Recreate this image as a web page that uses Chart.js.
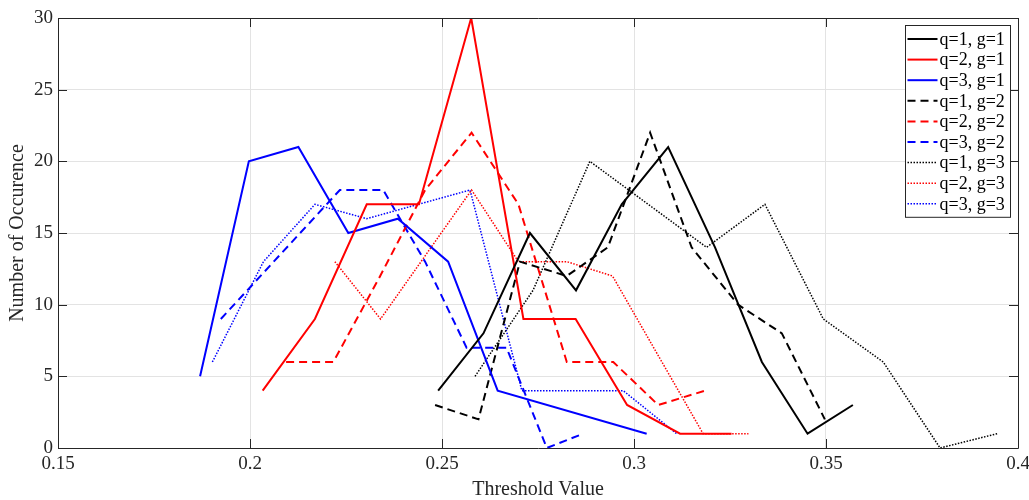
<!DOCTYPE html>
<html>
<head>
<meta charset="utf-8">
<script src="https://cdn.jsdelivr.net/npm/chart.js@4.4.0/dist/chart.umd.min.js"></script>
<style>
    html, body { margin: 0; padding: 0; background: #fff; }
</style>
</head>
<body>
<canvas id="thresholdChart" width="1029" height="500"></canvas>
<script>
// threshold value (x) and number of occurence (y) per curve
const thrQ1G1 = [0.2490, 0.2608, 0.2729, 0.2849, 0.2968, 0.3089, 0.3211, 0.3333, 0.3452, 0.3570];
const cntQ1G1 = [4, 8, 15, 11, 17, 21, 14, 6, 1, 3];
const thrQ2G1 = [0.2033, 0.2169, 0.2304, 0.2440, 0.2576, 0.2712, 0.2848, 0.2982, 0.3120, 0.3254];
const cntQ2G1 = [4, 9, 17, 17, 30, 9, 9, 3, 1, 1];
const thrQ3G1 = [0.1870, 0.1997, 0.2126, 0.2256, 0.2385, 0.2516, 0.2645, 0.3033];
const cntQ3G1 = [5, 20, 21, 15, 16, 13, 4, 1];

const thrQ1G2 = [0.2482, 0.2595, 0.2703, 0.2825, 0.2932, 0.3042, 0.3150, 0.3271, 0.3385, 0.3497];
const cntQ1G2 = [3, 2, 13, 12, 14, 22, 14, 10, 8, 2];
const thrQ2G2 = [0.2094, 0.2217, 0.2339, 0.2456, 0.2577, 0.2699, 0.2825, 0.2946, 0.3063, 0.3185];
const cntQ2G2 = [6, 6, 12, 18, 22, 17, 6, 6, 3, 4];
const thrQ3G2 = [0.1924, 0.2234, 0.2347, 0.2456, 0.2564, 0.2668, 0.2773, 0.2868];
const cntQ3G2 = [9, 18, 18, 13, 7, 7, 0, 1];

const thrQ1G3 = [0.2586, 0.2737, 0.2885, 0.3189, 0.3341, 0.3493, 0.3649, 0.3797, 0.3946];
const cntQ1G3 = [5, 11, 20, 14, 17, 9, 6, 0, 1];
const thrQ2G3 = [0.2221, 0.2340, 0.2577, 0.2699, 0.2825, 0.2944, 0.3180, 0.3298];
const cntQ2G3 = [13, 9, 18, 13, 13, 12, 1, 1];
const thrQ3G3 = [0.1902, 0.2035, 0.2169, 0.2304, 0.2573, 0.2708, 0.2972, 0.3111];
const cntQ3G3 = [6, 13, 17, 16, 18, 4, 4, 1];

const seriesLabels = ['q=1, g=1', 'q=2, g=1', 'q=3, g=1', 'q=1, g=2', 'q=2, g=2', 'q=3, g=2', 'q=1, g=3', 'q=2, g=3', 'q=3, g=3'];
const xTicks = [0.15, 0.2, 0.25, 0.3, 0.35, 0.4];
const yTicks = [0, 5, 10, 15, 20, 25, 30];

const AXIS = '#262626';
const SERIF = '"Liberation Serif", "Times New Roman", serif';

const colors = ['#000000', '#ff0000', '#0000ff'];
const styles = {
    solid: { dash: [], width: 2 },
    dashed: { dash: [8, 5], width: 2 },
    dotted: { dash: [1.5, 1.5], width: 1.5 }
};

function makeSet(i, xs, ys, style) {
    const st = styles[style];
    return {
        label: seriesLabels[i],
        data: xs.map((x, k) => ({ x: x, y: ys[k] })),
        borderColor: colors[i % 3],
        backgroundColor: colors[i % 3],
        borderWidth: st.width,
        borderDash: st.dash,
        pointRadius: 0,
        tension: 0,
        fill: false
    };
}

const datasets = [
    makeSet(0, thrQ1G1, cntQ1G1, 'solid'),
    makeSet(1, thrQ2G1, cntQ2G1, 'solid'),
    makeSet(2, thrQ3G1, cntQ3G1, 'solid'),
    makeSet(3, thrQ1G2, cntQ1G2, 'dashed'),
    makeSet(4, thrQ2G2, cntQ2G2, 'dashed'),
    makeSet(5, thrQ3G2, cntQ3G2, 'dashed'),
    makeSet(6, thrQ1G3, cntQ1G3, 'dotted'),
    makeSet(7, thrQ2G3, cntQ2G3, 'dotted'),
    makeSet(8, thrQ3G3, cntQ3G3, 'dotted')
];

// box round the plot with inward ticks, matlab style
const axesBox = {
    id: 'axesBox',
    afterDatasetsDraw(chart) {
        const { ctx, chartArea: a, scales } = chart;
        const len = 9;
        ctx.save();
        ctx.strokeStyle = AXIS;
        ctx.lineWidth = 1;
        ctx.setLineDash([]);
        ctx.beginPath();
        ctx.rect(Math.round(a.left) + 0.5, Math.round(a.top) + 0.5,
                 Math.round(a.right - a.left), Math.round(a.bottom - a.top));
        xTicks.forEach(v => {
            const px = Math.round(scales.x.getPixelForValue(v)) + 0.5;
            ctx.moveTo(px, a.bottom); ctx.lineTo(px, a.bottom - len);
            ctx.moveTo(px, a.top); ctx.lineTo(px, a.top + len);
        });
        yTicks.forEach(v => {
            const py = Math.round(scales.y.getPixelForValue(v)) + 0.5;
            ctx.moveTo(a.left, py); ctx.lineTo(a.left + len, py);
            ctx.moveTo(a.right, py); ctx.lineTo(a.right - len, py);
        });
        ctx.stroke();
        ctx.restore();
    }
};

// legend drawn inside the axes, top right
const boxLegend = {
    id: 'boxLegend',
    afterDraw(chart) {
        const { ctx, chartArea: a } = chart;
        const rowH = 20.6;
        const w = 105;
        const h = rowH * 8 + 27;
        const left = Math.round(a.right - 8 - w) + 0.5;
        const top = Math.round(a.top + 7) + 0.5;
        ctx.save();
        ctx.fillStyle = '#fff';
        ctx.fillRect(left, top, w, h);
        ctx.strokeStyle = AXIS;
        ctx.lineWidth = 1;
        ctx.strokeRect(left, top, w, h);
        ctx.font = '18px ' + SERIF;
        ctx.textBaseline = 'middle';
        chart.data.datasets.forEach((ds, i) => {
            const cy = top + 13.5 + i * rowH;
            ctx.strokeStyle = ds.borderColor;
            ctx.lineWidth = ds.borderWidth;
            ctx.setLineDash(ds.borderDash);
            ctx.beginPath();
            ctx.moveTo(left + 2, cy);
            ctx.lineTo(left + 32, cy);
            ctx.stroke();
            ctx.setLineDash([]);
            ctx.fillStyle = '#000';
            ctx.fillText(ds.label, left + 34, cy + 1);
        });
        ctx.restore();
    }
};

new Chart(document.getElementById('thresholdChart'), {
    type: 'line',
    data: { datasets: datasets },
    options: {
        responsive: false,
        animation: false,
        layout: { padding: { top: 18, right: 11, left: 0, bottom: 0 } },
        plugins: {
            legend: { display: false },
            tooltip: { enabled: false }
        },
        scales: {
            x: {
                type: 'linear',
                min: 0.15,
                max: 0.4,
                afterBuildTicks: s => { s.ticks = xTicks.map(v => ({ value: v })); },
                afterFit: s => { s.height = 52; s.paddingLeft = 0; s.paddingRight = 0; },
                ticks: {
                    color: AXIS,
                    padding: 5,
                    maxRotation: 0,
                    font: { family: SERIF, size: 19 },
                    callback: v => String(v)
                },
                grid: { color: '#e3e3e3', drawTicks: false },
                border: { display: false },
                title: {
                    display: true,
                    text: 'Threshold Value',
                    color: AXIS,
                    font: { family: SERIF, size: 20, lineHeight: 1 },
                    padding: { top: 0, bottom: 0 }
                }
            },
            y: {
                min: 0,
                max: 30,
                afterBuildTicks: s => { s.ticks = yTicks.map(v => ({ value: v })); },
                afterFit: s => { s.width = 58; s.paddingTop = 0; s.paddingBottom = 0; },
                ticks: {
                    color: AXIS,
                    padding: 5,
                    font: { family: SERIF, size: 19 }
                },
                grid: { color: '#e3e3e3', drawTicks: false },
                border: { display: false },
                title: {
                    display: true,
                    text: 'Number of Occurence',
                    color: AXIS,
                    font: { family: SERIF, size: 20, lineHeight: 1.2 },
                    padding: { top: 6, bottom: 0 }
                }
            }
        }
    },
    plugins: [axesBox, boxLegend]
});
</script>
</body>
</html>
